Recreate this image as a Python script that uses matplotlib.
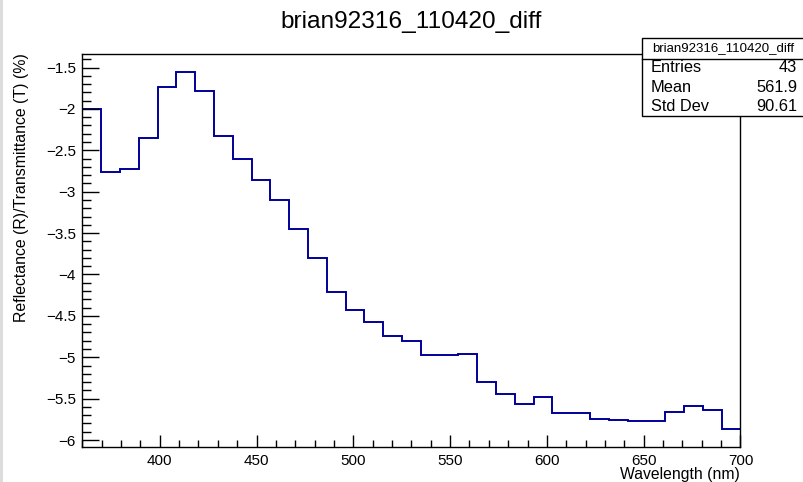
import numpy as np
import matplotlib
matplotlib.use("Agg")
import matplotlib.pyplot as plt
from matplotlib.ticker import MultipleLocator, FuncFormatter
from matplotlib.patches import Rectangle

plt.rcParams['font.family'] = ['Liberation Sans', 'DejaVu Sans']

# ---- data ----
title = "brian92316_110420_diff"
x_label = "Wavelength (nm)"
y_label = "Reflectance (R)/Transmittance (T) (%)"
x_min, x_max = 360, 700
values = [-2.003, -2.763, -2.720, -2.349, -1.733, -1.556, -1.778, -2.333,
          -2.599, -2.853, -3.102, -3.452, -3.802, -4.213, -4.435, -4.580,
          -4.741, -4.801, -4.975, -4.975, -4.962, -5.300, -5.449, -5.570,
          -5.477, -5.670, -5.670, -5.740, -5.755, -5.775, -5.775, -5.658,
          -5.594, -5.634, -5.872]
stats_labels = ["Entries", "Mean", "Std Dev"]
stats_values = ["43", "561.9", "90.61"]

edges = np.linspace(x_min, x_max, len(values) + 1)
W, H = 804, 482

fig = plt.figure(figsize=(W / 100, H / 100), dpi=100)
fig.patch.set_facecolor('white')
ax = fig.add_axes([82.3 / W, 1 - 447.3 / H, (740.5 - 82.3) / W, (447.3 - 54.3) / H])

ax.stairs(values, edges, color='#000099', linewidth=1.4, baseline=None)

vmin, vmax = min(values), max(values)
rng = vmax - vmin
ax.set_xlim(x_min, x_max)
ax.set_ylim(vmin - 0.05 * rng, vmax + 0.05 * rng)

ax.xaxis.set_major_locator(MultipleLocator(50))
ax.xaxis.set_minor_locator(MultipleLocator(10))
ax.yaxis.set_major_locator(MultipleLocator(0.5))
ax.yaxis.set_minor_locator(MultipleLocator(0.1))
fmt = FuncFormatter(lambda v, p: f"{v:g}".replace('-', '\u2212'))
ax.yaxis.set_major_formatter(fmt)
ax.xaxis.set_major_formatter(FuncFormatter(lambda v, p: f"{v:g}"))

ax.tick_params(axis='both', which='both', direction='in', top=False, right=False,
               labelsize=11, width=1.0, color='black')
ax.tick_params(axis='y', which='major', length=12.5, pad=4.5)
ax.tick_params(axis='y', which='minor', length=6.5)
ax.tick_params(axis='x', which='major', length=8.5, pad=4.5)
ax.tick_params(axis='x', which='minor', length=4.8)
for s in ax.spines.values():
    s.set_linewidth(1.0)
    s.set_color('black')

fig.text(411 / W, 1 - 21.7 / H, title, ha='center', va='center', fontsize=17.6)
fig.text(21.7 / W, 1 - 53.5 / H, y_label, rotation=90, ha='center', va='top', fontsize=11.4)
fig.text(740 / W, 1 - 475 / H, x_label, ha='right', va='center', fontsize=11.3)

# left light-grey border strip
fig.add_artist(Rectangle((0, 0), 3 / W, 1, transform=fig.transFigure,
                         facecolor='#dcdcdc', edgecolor='none'))

# stats box
bx0, bx1 = 642 / W, 1.0
by_top, by_sep, by_bot = 1 - 37.7 / H, 1 - 58.5 / H, 1 - 115.7 / H
fig.add_artist(Rectangle((bx0, by_bot), bx1 - bx0 + 0.01, by_top - by_bot,
                         transform=fig.transFigure, facecolor='white',
                         edgecolor='black', linewidth=1.0, zorder=10))
fig.add_artist(plt.Line2D([bx0, 1.0], [by_sep, by_sep], transform=fig.transFigure,
                          color='black', linewidth=1.0, zorder=11))
fig.text(723 / W, 1 - 48 / H, title, ha='center', va='center',
         fontsize=9.5, zorder=12)
rows_y = [67.7, 87.3, 106.7]
for lab, val, yy in zip(stats_labels, stats_values, rows_y):
    fig.text(651 / W, 1 - yy / H, lab, ha='left', va='center', fontsize=11.8, zorder=12)
    fig.text(797 / W, 1 - yy / H, val, ha='right', va='center', fontsize=11.8, zorder=12)

fig.savefig("out.png", dpi=100)
